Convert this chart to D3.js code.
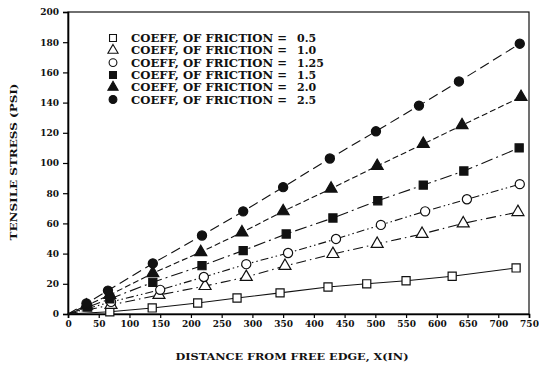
<!DOCTYPE html>
<html>
<head>
<meta charset="utf-8">
<script src="https://cdn.jsdelivr.net/npm/d3@7"></script>
<style>
  body { margin: 0; background: #fff; }
  text { font-family: "DejaVu Serif", serif; font-weight: bold; fill: #111; }
</style>
</head>
<body>
<script>
const W = 539, H = 369;
const m = {left: 68, right: 10, top: 12, bottom: 55};

// data
const coeffs = ['0.5', '1.0', '1.25', '1.5', '2.0', '2.5'];
const x05  = [68, 137, 211, 275, 345, 423, 486, 550, 625, 729];
const y05  = [1.5, 4, 7.3, 10.6, 14, 17.9, 20, 22, 25, 30.5];
const x10  = [70, 148, 223, 290, 353, 431, 503, 576, 643, 732];
const y10  = [6, 12.6, 18.5, 24.5, 31.8, 39.7, 46.4, 53, 60, 67.5];
const x125 = [70, 150, 221, 290, 358, 436, 509, 581, 649, 735];
const y125 = [8, 16, 24.5, 33, 40.4, 49.7, 59, 68, 76, 86];
const x15  = [32, 68, 138, 218, 285, 355, 431, 504, 578, 644, 734];
const y15  = [4.5, 10, 21, 32, 42, 53, 63.6, 75, 85.4, 94.7, 110];
const x20  = [30, 68, 138, 216, 283, 350, 428, 503, 578, 641, 737];
const y20  = [5.5, 12.6, 27, 41, 54, 68, 83, 98, 112.6, 125, 143.7];
const x25  = [30, 65, 138, 218, 285, 350, 426, 501, 571, 636, 735];
const y25  = [7, 15.5, 33.5, 52, 68, 84, 103, 121, 138, 154, 179];
const xTicks = d3.range(0, 751, 50);
const yTicks = d3.range(0, 201, 20);

const series = [
  {c: coeffs[0], xs: x05,  ys: y05,  sym: d3.symbolSquare,   fill: false, dash: null},
  {c: coeffs[1], xs: x10,  ys: y10,  sym: d3.symbolTriangle, fill: false, dash: '10,4,1.5,4'},
  {c: coeffs[2], xs: x125, ys: y125, sym: d3.symbolCircle,   fill: false, dash: '8,3,1.5,3,1.5,3'},
  {c: coeffs[3], xs: x15,  ys: y15,  sym: d3.symbolSquare,   fill: true,  dash: '12,4,2,4'},
  {c: coeffs[4], xs: x20,  ys: y20,  sym: d3.symbolTriangle, fill: true,  dash: '6,3'},
  {c: coeffs[5], xs: x25,  ys: y25,  sym: d3.symbolCircle,   fill: true,  dash: '10,5'}
];

const svg = d3.select('body').append('svg')
  .attr('width', W)
  .attr('height', H);

const x = d3.scaleLinear().domain([0, 750]).range([m.left, W - m.right]);
const y = d3.scaleLinear().domain([0, 200]).range([H - m.bottom, m.top]);

// frame
svg.append('rect')
  .attr('x', x(0)).attr('y', y(200))
  .attr('width', x(750) - x(0)).attr('height', y(0) - y(200))
  .attr('fill', 'none').attr('stroke', '#111').attr('stroke-width', 1.2);

const xAxis = svg.append('g')
  .attr('transform', `translate(0,${y(0)})`)
  .call(d3.axisBottom(x).tickValues(xTicks).tickSize(4).tickPadding(3));
const yAxis = svg.append('g')
  .attr('transform', `translate(${x(0)},0)`)
  .call(d3.axisLeft(y).tickValues(yTicks).tickSize(5).tickPadding(4));

[xAxis, yAxis].forEach(g => {
  g.select('.domain').attr('stroke-width', 1.6);
  g.selectAll('line').attr('stroke-width', 1.2);
  g.selectAll('text').style('font-size', '9px').style('font-family', '"DejaVu Serif", serif')
    .style('font-weight', 'bold');
});

// axis titles
svg.append('text')
  .attr('x', 292).attr('y', 360)
  .attr('text-anchor', 'middle')
  .attr('textLength', 233).attr('lengthAdjust', 'spacingAndGlyphs')
  .style('font-size', '10px')
  .text('DISTANCE FROM FREE EDGE, X(IN)');

svg.append('text')
  .attr('transform', 'translate(17,162) rotate(-90)')
  .attr('text-anchor', 'middle')
  .attr('textLength', 157).attr('lengthAdjust', 'spacingAndGlyphs')
  .style('font-size', '10px')
  .text('TENSILE  STRESS  (PSI)');

// lines from the origin through the points
const line = d3.line().x(d => x(d[0])).y(d => y(d[1]));

const plot = svg.append('g');
series.forEach(s => {
  const pts = [[0, 0]].concat(s.xs.map((v, i) => [v, s.ys[i]]));
  plot.append('path')
    .attr('d', line(pts))
    .attr('fill', 'none')
    .attr('stroke', '#111')
    .attr('stroke-width', 1.1)
    .attr('stroke-dasharray', s.dash);
});

const sym = (s) => d3.symbol().type(s.sym).size(s.sym === d3.symbolTriangle ? 62 : 66)();

series.forEach(s => {
  plot.selectAll(null)
    .data(s.xs.map((v, i) => [v, s.ys[i]]))
    .join('path')
      .attr('transform', d => `translate(${x(d[0])},${y(d[1])})`)
      .attr('d', sym(s))
      .attr('fill', s.fill ? '#111' : '#fff')
      .attr('stroke', '#111')
      .attr('stroke-width', 1.2);
});

// legend
const legend = svg.append('g');
const rows = legend.selectAll('g')
  .data(series)
  .join('g')
    .attr('transform', (d, i) => `translate(113,${38 + i * 12.3})`);

rows.append('path')
  .attr('d', d => d3.symbol().type(d.sym).size(d.sym === d3.symbolTriangle ? 45 : 48)())
  .attr('fill', d => d.fill ? '#111' : '#fff')
  .attr('stroke', '#111')
  .attr('stroke-width', 1.1);

rows.append('text')
  .attr('x', 18).attr('y', 4)
  .attr('textLength', 156).attr('lengthAdjust', 'spacingAndGlyphs')
  .style('font-size', '11px')
  .text('COEFF, OF FRICTION =');
rows.append('text')
  .attr('x', 184).attr('y', 4)
  .style('font-size', '11px')
  .text(d => d.c);
</script>
</body>
</html>
